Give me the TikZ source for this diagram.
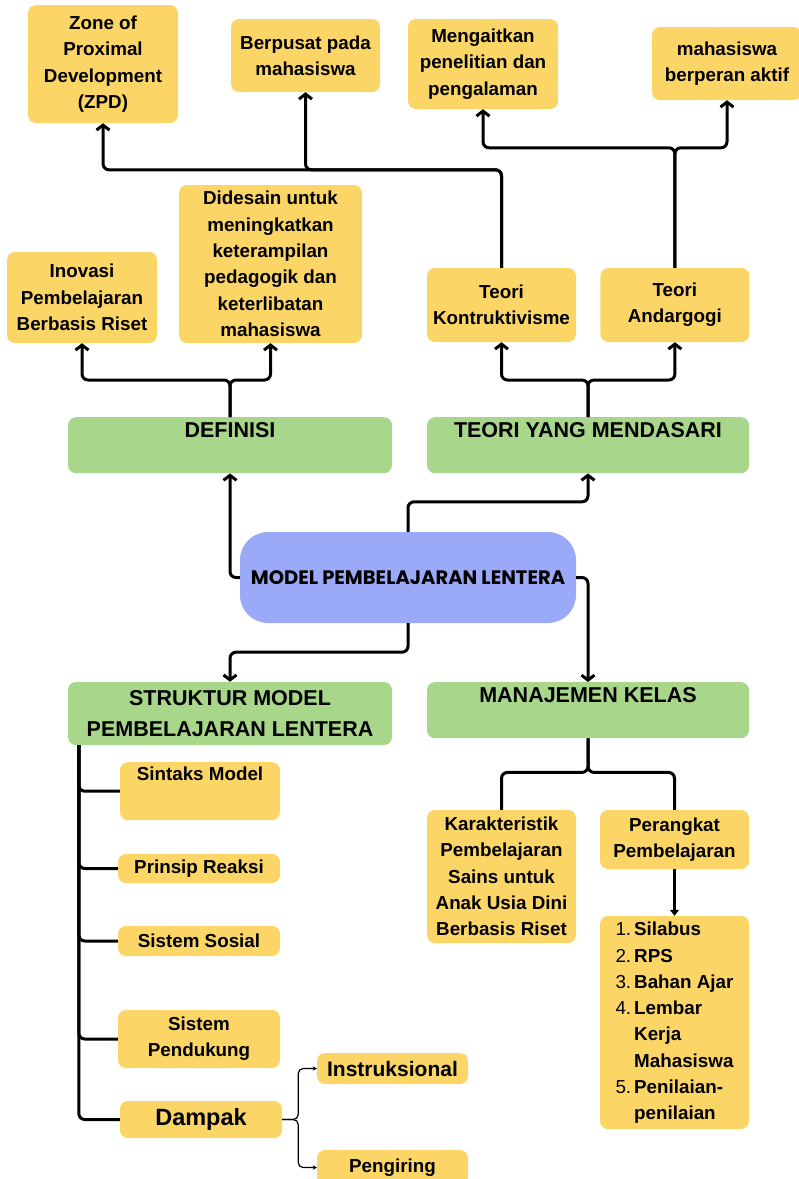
\documentclass[tikz,border=0pt]{standalone}
\usepackage{fontspec}
\setmainfont{Liberation Sans}
\newfontfamily\modelfont{Poppins}
\usetikzlibrary{positioning,arrows.meta}
\definecolor{boxyellow}{RGB}{251,214,102}
\definecolor{boxgreen}{RGB}{168,214,138}
\definecolor{boxblue}{RGB}{155,170,248}
\tikzstyle{ybox}=[
fill=boxyellow,
rounded corners=8pt,
align=center,
inner sep=0pt,
font=\fontsize{18.8}{26.3}\selectfont\bfseries
]
\tikzstyle{gbox}=[
fill=boxgreen,
rounded corners=8pt,
align=center,
inner sep=0pt,
font=\fontsize{21.5}{31}\selectfont\bfseries
]
\tikzstyle{link} = [draw,line width=3pt,rounded corners=6pt]
\tikzstyle{arrowlink} = [link,-{Straight Barb[length=5pt,width=13pt]}]
\tikzstyle{thinlink} = [draw,line width=1.2pt,rounded corners=5pt,-{Stealth[length=4pt,width=4.5pt]}]

\begin{document}
\begin{tikzpicture}[x=1pt,y=-1pt]
\useasboundingbox (0,0) rectangle (799,1179);

% teori dan definisi
\node[ybox,minimum width=150pt,minimum height=118pt] (zpd) at (103,64) {Zone of\\Proximal\\Development\\(ZPD)};
\node[ybox,minimum width=149pt,minimum height=73pt] (ber) at (305.5,55.5) {Berpusat pada\\mahasiswa};
\node[ybox,minimum width=150pt,minimum height=90pt] (men) at (483,64) {Mengaitkan\\penelitian dan\\pengalaman};
\node[ybox,minimum width=150pt,minimum height=73pt] (mah) at (727,63.5) {mahasiswa\\berperan aktif};

\node[ybox,minimum width=150pt,minimum height=91pt] (inov) at (82,297.5) {Inovasi\\Pembelajaran\\Berbasis Riset};
\node[ybox,minimum width=183pt,minimum height=158pt] (did) at (270.5,264) {Didesain untuk\\meningkatkan\\keterampilan\\pedagogik dan\\keterlibatan\\mahasiswa};
\node[ybox,minimum width=149pt,minimum height=74pt] (kon) at (501.5,305) {Teori\\Kontruktivisme};
\node[ybox,minimum width=149pt,minimum height=74pt] (andr) [right=24pt of kon] {Teori\\Andargogi};

\node[gbox,minimum width=324pt,text height=20.7pt,text depth=35.3pt,anchor=north] (defi) at (230,417) {DEFINISI};
\node[gbox,minimum width=322pt,text height=20.7pt,text depth=35.3pt,anchor=north] (teo) at (588,417) {TEORI YANG MENDASARI};

% pusat
\node[fill=boxblue,rounded corners=28pt,minimum width=336pt,minimum height=91pt,
font=\modelfont\bfseries\fontsize{19.5}{22}\selectfont] (model) at (408,577.5) {MODEL PEMBELAJARAN LENTERA};

\node[gbox,minimum width=324pt,minimum height=63pt] (struk) at (230,713.5) {STRUKTUR MODEL\\PEMBELAJARAN LENTERA};
\node[gbox,minimum width=322pt,text height=20.7pt,text depth=35.3pt,anchor=north] (man) at (588,682) {MANAJEMEN KELAS};

% struktur model
\node[ybox,minimum width=160pt,text height=18pt,text depth=40pt,anchor=north] (sin) at (200,762) {Sintaks Model};
\node[ybox,minimum width=162pt,minimum height=29pt] (pri) at (199,868.5) {Prinsip Reaksi};
\node[ybox,minimum width=162pt,minimum height=30pt] (sos) at (199,941) {Sistem Sosial};
\node[ybox,minimum width=162pt,minimum height=58pt] (pend) at (199,1039) {Sistem\\Pendukung};
\node[ybox,minimum width=162pt,minimum height=37pt,font=\fontsize{23.5}{28}\selectfont\bfseries] (dam) at (201,1119.5) {Dampak};
\node[ybox,minimum width=151pt,minimum height=31pt,font=\fontsize{21}{26}\selectfont\bfseries] (ins) at (392.5,1068.5) {Instruksional};
\node[ybox,minimum width=151pt,minimum height=35pt] (peng) at (392.5,1167.5) {Pengiring};

% manajemen kelas
\node[ybox,minimum width=149pt,minimum height=133pt] (kar) at (501.5,876.5) {Karakteristik\\Pembelajaran\\Sains untuk\\Anak Usia Dini\\Berbasis Riset};
\node[ybox,minimum width=149pt,minimum height=59pt] (per) at (674.5,839.5) {Perangkat\\Pembelajaran};
\node[ybox,minimum width=149pt,minimum height=213pt] (list) at (674.5,1022.5) {\begin{tabular}{@{}r@{\hspace{3pt}}l@{}}
{\mdseries 1.}&Silabus\\
{\mdseries 2.}&RPS\\
{\mdseries 3.}&Bahan Ajar\\
{\mdseries 4.}&Lembar\\
&Kerja\\
&Mahasiswa\\
{\mdseries 5.}&Penilaian-\\
&penilaian
\end{tabular}};

% connectors
\path[arrowlink] (model.west) -| (defi.south);
\path[arrowlink] (model.north) -- ++(0,-30) -| (teo.south);
\path[arrowlink] (model.south) -- ++(0,29) -| (struk.north);
\path[arrowlink] (model.east) -| (man.north);

\path[arrowlink] (defi.north) -- ++(0,-37) -| (inov.south);
\path[arrowlink] (defi.north) -- ++(0,-37) -| (did.south);
\path[arrowlink] (teo.north) -- ++(0,-37) -| (kon.south);
\path[arrowlink] (teo.north) -- ++(0,-37) -| (andr.south);

\path[arrowlink] (kon.north) -- ++(0,-98) -| (zpd.south);
\path[arrowlink] (kon.north) -- ++(0,-98) -| (ber.south);
\path[arrowlink] (andr.north) -- ++(0,-120) -| (men.south);
\path[arrowlink] (andr.north) -- ++(0,-120) -| (mah.south);

\path[link] (man.south) -- ++(0,34) -| (kar.north);
\path[link] (man.south) -- ++(0,34) -| (per.north);
\draw[line width=2.5pt,-{Triangle[length=6pt,width=9pt]}] (per.south) -- (list.north);

\coordinate (trunk) at ([xshift=11pt]struk.south west);
\path[link] (trunk) |- (sin.west);
\path[link] (trunk) |- (pri.west);
\path[link] (trunk) |- (sos.west);
\path[link] (trunk) |- (pend.west);
\path[link] (trunk) |- (dam.west);

\path[thinlink] (dam.east) -- ++(16,0) |- (ins.west);
\path[thinlink] (dam.east) -- ++(16,0) |- (peng.west);

\end{tikzpicture}
\end{document}
